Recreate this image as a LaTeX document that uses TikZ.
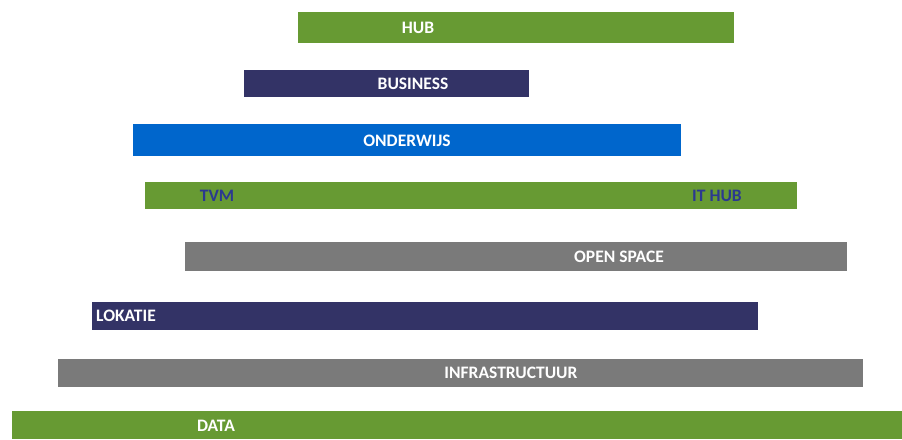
\documentclass[tikz,border=0pt]{standalone}
\usepackage{fontspec}
\setmainfont{Carlito}
\begin{document}
\begin{tikzpicture}[x=1pt,y=-1pt,
  bar/.style={draw=none, anchor=north west, inner sep=0pt, outer sep=0pt},
  lbl/.style={font=\bfseries\fontsize{17.5}{18}\selectfont, text=white, inner sep=0pt},
  dlbl/.style={lbl, text=tvmblue}]
\definecolor{hubgreen}{HTML}{679A33}
\definecolor{navy}{HTML}{333366}
\definecolor{oblue}{HTML}{0066CC}
\definecolor{gry}{HTML}{7A7A7A}
\definecolor{tvmblue}{HTML}{2B3990}
\useasboundingbox (0,0) rectangle (902,439);
\fill[white] (0,0) rectangle (902,439);
% bars
\node[bar, fill=hubgreen, minimum width=436pt, minimum height=31pt] (hub) at (298,12) {};
\node[bar, fill=navy, minimum width=285pt, minimum height=27pt] (business) at (244,70) {};
\node[bar, fill=oblue, minimum width=548pt, minimum height=32pt] (onderwijs) at (133,124) {};
\node[bar, fill=hubgreen, minimum width=652pt, minimum height=27pt] (tvm) at (145,182) {};
\node[bar, fill=gry, minimum width=662pt, minimum height=29pt] (open) at (185,242) {};
\node[bar, fill=navy, minimum width=666pt, minimum height=28pt] (lokatie) at (92,302) {};
\node[bar, fill=gry, minimum width=805pt, minimum height=28pt] (infra) at (58,359) {};
\node[bar, fill=hubgreen, minimum width=890pt, minimum height=28pt] (data) at (12,411) {};
% labels
\node[lbl] (thub) at (418,28) {HUB};
\node[lbl] (tbusiness) at (413,84) {BUSINESS};
\node[lbl] (tonderwijs) at (407,141) {ONDERWIJS};
\node[dlbl] (ttvm) at (217,196) {TVM};
\node[dlbl] (tithub) at (717,196) {IT HUB};
\node[lbl] (topen) at (619,257) {OPEN SPACE};
\node[lbl, anchor=west] (tlokatie) at (96,316) {LOKATIE};
\node[lbl] (tinfra) at (511,373) {INFRASTRUCTUUR};
\node[lbl] (tdata) at (216,426) {DATA};
\end{tikzpicture}
\end{document}
